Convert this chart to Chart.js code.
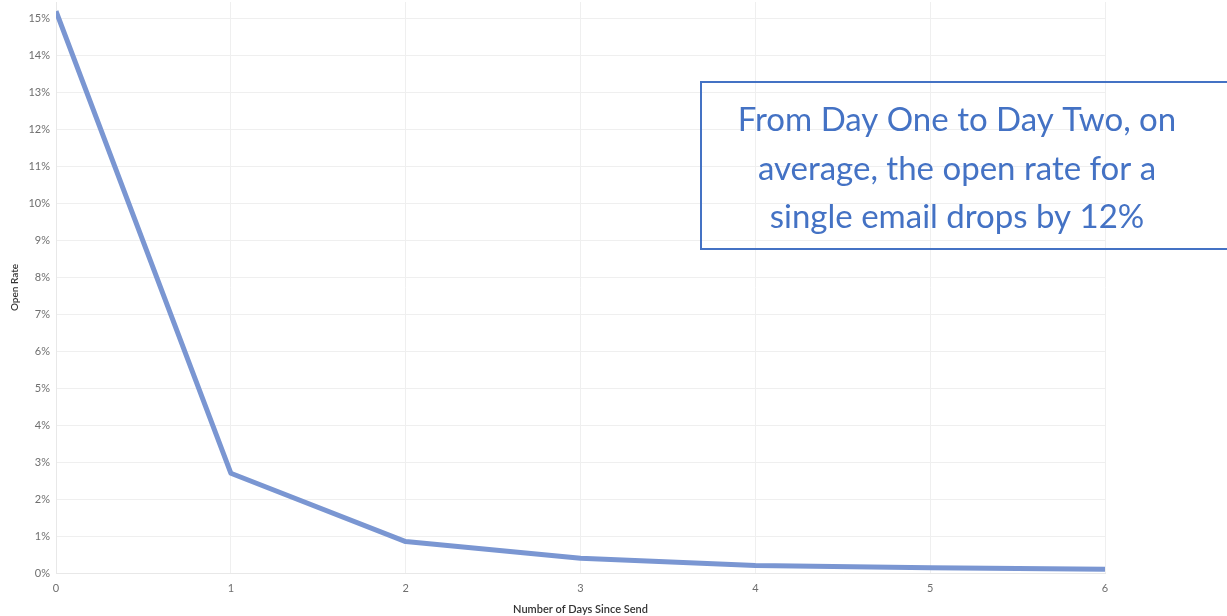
<!DOCTYPE html>
<html>
<head>
<meta charset="utf-8">
<script src="https://cdn.jsdelivr.net/npm/chart.js@4"></script>
<style>
  html, body { margin: 0; padding: 0; background: #fff; }
  #wrap { width: 1227px; height: 616px; position: relative; }
</style>
</head>
<body>
<div id="wrap"><canvas id="openRateChart"></canvas></div>
<script>
// Данные графика
const days = [0, 1, 2, 3, 4, 5, 6];
const openRate = [15.2, 2.7, 0.85, 0.4, 0.2, 0.14, 0.1];
const noteLines = [
  'From Day One to Day Two, on',
  'average, the open rate for a',
  'single email drops by 12%'
];

const tickFont = { family: 'Lato', size: 11 };
const tickColor = '#6f6f6f';
const gridColor = '#efefef';

// Подпись в рамке справа
const notePlugin = {
  id: 'note',
  afterDraw(chart) {
    const c = chart.ctx;
    c.save();
    c.strokeStyle = '#4472c4';
    c.lineWidth = 2;
    c.strokeRect(701, 82, 540, 167);
    c.fillStyle = '#4472c4';
    c.font = '33px Lato';
    c.textAlign = 'center';
    c.textBaseline = 'alphabetic';
    noteLines.forEach((line, i) => {
      c.fillText(line, 957, 131 + i * 48.5);
    });
    c.restore();
  }
};

const ctx = document.getElementById('openRateChart').getContext('2d');
const chart = new Chart(ctx, {
  type: 'line',
  data: {
    datasets: [{
      label: 'Open Rate',
      data: days.map((d, i) => ({ x: d, y: openRate[i] })),
      borderColor: '#7a96d2',
      borderWidth: 5,
      pointRadius: 0,
      tension: 0,
      borderJoinStyle: 'round',
      borderCapStyle: 'butt'
    }]
  },
  options: {
    responsive: true,
    maintainAspectRatio: false,
    animation: false,
    layout: { padding: { left: 0, right: 122, top: 2, bottom: 0 } },
    plugins: { legend: { display: false }, tooltip: { enabled: false } },
    scales: {
      x: {
        type: 'linear',
        min: 0,
        max: 6,
        ticks: { stepSize: 1, font: tickFont, color: tickColor, padding: 9 },
        grid: { color: gridColor, drawTicks: false },
        border: { color: '#e8e8e8' },
        title: {
          display: true,
          text: 'Number of Days Since Send',
          font: { family: 'Lato', size: 11, weight: '600' },
          color: '#333',
          padding: { top: 5, bottom: 0 }
        },
        afterFit(scale) { scale.height = 43; }
      },
      y: {
        min: 0,
        max: 15.45,
        ticks: {
          stepSize: 1,
          font: tickFont,
          color: tickColor,
          padding: 6,
          callback: v => v + '%'
        },
        afterBuildTicks(scale) {
          scale.ticks = scale.ticks.filter(t => Number.isInteger(t.value));
        },
        grid: { color: gridColor, drawTicks: false },
        border: { color: '#e8e8e8' },
        title: {
          display: true,
          text: 'Open Rate',
          font: { family: 'Lato', size: 10, weight: '600' },
          color: '#333',
          padding: { top: 9, bottom: 0 }
        },
        afterFit(scale) {
          scale.width = 56;
          scale.paddingTop = 0;
          scale.paddingBottom = 0;
        }
      }
    }
  },
  plugins: [notePlugin]
});
</script>
</body>
</html>
